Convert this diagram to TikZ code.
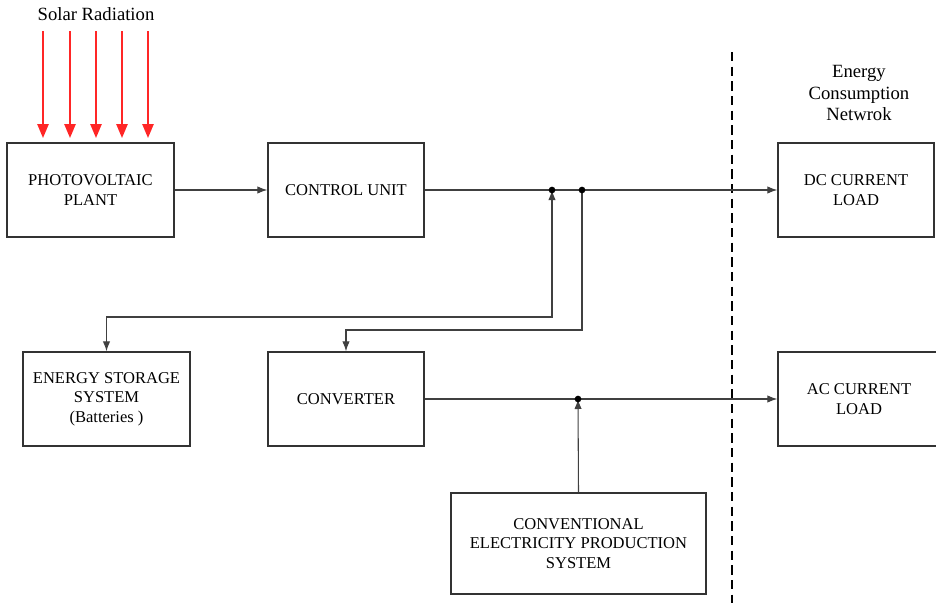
\documentclass[tikz,border=0pt]{standalone}
\usepackage{fontspec}
\setmainfont{Liberation Serif}
\usetikzlibrary{arrows.meta}
\def\u{0.75pt}
\tikzset{
  box/.style={draw=black!80, line width=0.9pt, align=center, inner sep=0pt,
    font=\fontsize{12.4}{14.6}\selectfont},
  conn/.style={draw=black!75, line width=0.8pt},
  tip/.style={-{Latex[length=7.5pt,width=5.5pt]}},
  ray/.style={draw=red!85!white, line width=1.3pt, -{Triangle[length=10.5pt,width=8.5pt]}},
  dot/.style={circle, fill=black, inner sep=0pt, minimum size=5pt},
  lbl/.style={align=center, font=\fontsize{14}{16.2}\selectfont}
}
\begin{document}
\begin{tikzpicture}[x=\u, y=-\u]
\clip (0,0) rectangle (936,603);
\useasboundingbox (0,0) rectangle (936,603);

% boxes
\node[box, minimum width=167*\u, minimum height=94*\u] (pv) at (90.5,190) {PHOTOVOLTAIC\\PLANT};
\node[box, minimum width=156*\u, minimum height=94*\u] (cu) at (346,190) {CONTROL UNIT};
\node[box, minimum width=156*\u, minimum height=94*\u] (dc) at (856,190) {DC CURRENT\\LOAD};
\node[box, minimum width=167*\u, minimum height=94*\u] (ess) at (106.5,399) {ENERGY STORAGE\\SYSTEM\\(Batteries )};
\node[box, minimum width=156*\u, minimum height=94*\u] (conv) at (346,399) {CONVERTER};
\node[box, minimum width=162*\u, minimum height=94*\u] (ac) at (859,399) {AC CURRENT\\LOAD};
\node[box, minimum width=255*\u, minimum height=101*\u] (ceps) at (578.5,543.5) {CONVENTIONAL\\ELECTRICITY PRODUCTION\\SYSTEM};

% labels
\node[lbl] (sr) at (96,14) {Solar Radiation};
\node[lbl] (ecn) at (859,93) {Energy\\Consumption\\Netwrok};

% solar rays
\foreach \i/\x in {1/43,2/70,3/96,4/122,5/148}{
  \coordinate (s\i) at (\x,31);
  \coordinate (t\i) at (\x,138);
  \draw[ray] (s\i) -- (t\i);
}

% dashed separator
\coordinate (d1) at (732,52);
\coordinate (d2) at (732,605);
\draw[line width=1.9pt, dash pattern=on 7pt off 4pt] (d1) -- (d2);

% junctions
\coordinate (j1) at (552,190);
\coordinate (j2) at (582,190);
\coordinate (j3) at (578,399);
\coordinate (b1) at (552,317);
\coordinate (b2) at (582,330);

% connectors
\draw[conn, tip] (pv.east) -- (cu.west);
\draw[conn, tip] (cu.east) -- (dc.west);
\draw[conn, {Latex[length=7.5pt,width=5.5pt]}-{Latex[length=7.5pt,width=5.5pt]}] (j1) -- (b1) -| (ess.north);
\draw[conn, tip] (j2) -- (b2) -| (conv.north);
\draw[conn, tip] (conv.east) -- (ac.west);
\draw[conn, tip] (ceps.north) -- (j3);

\node[dot] (n1) at (j1) {};
\node[dot] (n2) at (j2) {};
\node[dot] (n3) at (j3) {};
\end{tikzpicture}
\end{document}
